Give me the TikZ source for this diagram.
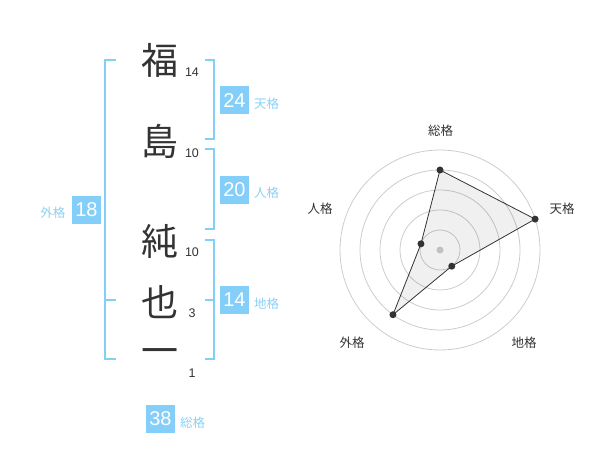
\documentclass[tikz,border=0pt]{standalone}
\usepackage{fontspec}
\setmainfont{Liberation Sans}
\newfontfamily\cjk{Noto Sans CJK JP}
\definecolor{kblue}{HTML}{84CFFA}
\definecolor{klabel}{HTML}{8CD0F5}
\definecolor{kdark}{HTML}{333333}
\definecolor{kgrid}{HTML}{CCCCCC}
\begin{document}
\begin{tikzpicture}[x=1pt,y=-1pt,
  kanji/.style={font=\cjk\fontsize{37}{37}\selectfont, text=kdark, inner sep=0},
  strokes/.style={font=\fontsize{12.5}{12.5}\selectfont, text=kdark, inner sep=0},
  valbox/.style={fill=kblue, text=white, minimum width=29pt, minimum height=28pt, inner sep=0, font=\fontsize{20}{20}\selectfont},
  kaku/.style={font=\cjk\fontsize{12.5}{12.5}\selectfont, text=klabel, inner sep=0},
  rlabel/.style={font=\cjk\fontsize{12.5}{12.5}\selectfont, text=kdark, inner sep=0},
  brk/.style={draw=kblue, line width=2pt},
  grid/.style={draw=kgrid, line width=0.8pt},
  dot/.style={circle, fill=kdark, inner sep=0, minimum size=7pt}]
\useasboundingbox (0,0) rectangle (600,470);
% kanji
\node[kanji] (k1) at (160,60) {福};
\node[kanji] (k2) at (160,141) {島};
\node[kanji] (k3) at (160,241) {純};
\node[kanji] (k4) at (160,302) {也};
\node[kanji] (k5) at (160,357) {一};
\node[strokes] (s1) at (192,72.5) {14};
\node[strokes] (s2) at (192,153.5) {10};
\node[strokes] (s3) at (192,252.5) {10};
\node[strokes] (s4) at (192,313.5) {3};
\node[strokes] (s5) at (192,373) {1};
% brackets
\coordinate (la) at (116,60); \coordinate (lb) at (116,359); \coordinate (lm) at (116,300);
\draw[brk] (la) -| (105,359) -- (lb);
\draw[brk] (105,300) -- (lm);
\coordinate (r1a) at (205,60); \coordinate (r1b) at (205,139);
\draw[brk] (r1a) -| (214,139) -- (r1b);
\coordinate (r2a) at (205,149); \coordinate (r2b) at (205,229);
\draw[brk] (r2a) -| (214,229) -- (r2b);
\coordinate (r3a) at (205,240); \coordinate (r3b) at (205,359); \coordinate (r3m) at (205,300);
\draw[brk] (r3a) -| (214,359) -- (r3b);
\draw[brk] (214,300) -- (r3m);
% value boxes
\node[valbox] (ten) at (234.5,100.5) {24};
\node[kaku, anchor=west] (tenl) at (254,103.5) {天格};
\node[valbox] (jin) at (234.5,190) {20};
\node[kaku, anchor=west] (jinl) at (254,193) {人格};
\node[valbox] (chi) at (234.5,300) {14};
\node[kaku, anchor=west] (chil) at (254,303.5) {地格};
\node[valbox] (gai) at (86.5,210) {18};
\node[kaku, anchor=east] (gail) at (65.5,213) {外格};
\node[valbox] (sou) at (160.5,419) {38};
\node[kaku, anchor=west] (soul) at (180,422.5) {総格};
% radar
\begin{scope}[shift={(440,250)}]
  \foreach \r in {20,40,60,80,100} \draw[grid] (0,0) circle[radius=\r];
  \fill[kgrid] (0,0) circle[radius=3.5];
  \coordinate (p1) at (-90:80);
  \coordinate (p2) at (-18:100);
  \coordinate (p3) at (54:20);
  \coordinate (p4) at (126:80);
  \coordinate (p5) at (198:20);
  \filldraw[fill=black, fill opacity=0.06, draw=kdark, line width=0.8pt] (p1) -- (p2) -- (p3) -- (p4) -- (p5) -- cycle;
  \foreach \p in {p1,p2,p3,p4,p5} \node[dot] at (\p) {};
\end{scope}
\node[rlabel] (rsou) at (440.7,130.5) {総格};
\node[rlabel] (rten) at (562,208.5) {天格};
\node[rlabel] (rjin) at (320,208.5) {人格};
\node[rlabel] (rgai) at (352,342.5) {外格};
\node[rlabel] (rchi) at (524,342.5) {地格};
\end{tikzpicture}
\end{document}
